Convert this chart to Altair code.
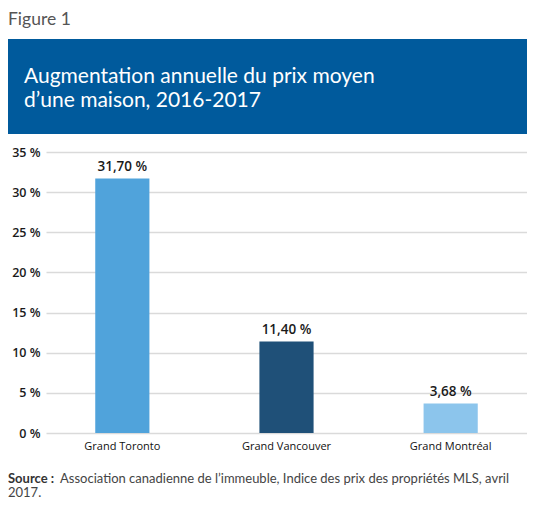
import altair as alt
import pandas as pd

regions = ["Grand Toronto", "Grand Vancouver", "Grand Montréal"]
increases = [31.70, 11.40, 3.68]
value_labels = ["31,70 %", "11,40 %", "3,68 %"]
bar_colors = ["#50a3db", "#1f5078", "#8cc5ec"]
y_ticks = [0, 5, 10, 15, 20, 25, 30, 35]

figure_label = "Figure 1"
title_lines = ["Augmentation annuelle du prix moyen", "d\u2019une maison, 2016-2017"]
source_bold = "Source :"
source_lines = ["Association canadienne de l\u2019immeuble, Indice des prix des propriétés MLS, avril", "2017."]

df = pd.DataFrame({"region": regions, "value": increases, "label": value_labels, "color": bar_colors})

W, H = 481, 281
L = 38
PAD = {"left": L, "top": 144, "right": 0, "bottom": 68}
FONT = "Open Sans"
TFONT = "Lato"

x = alt.X("region:N", sort=regions,
          scale=alt.Scale(paddingInner=0.67, paddingOuter=0.30),
          axis=alt.Axis(title=None, labelAngle=0, domain=False, ticks=False,
                        labelPadding=7, labelFontSize=11, labelColor="#111111",
                        labelFont=FONT, labelFontWeight=500))
y = alt.Y("value:Q", scale=alt.Scale(domain=[0, 35], nice=False),
          axis=alt.Axis(title=None, values=y_ticks, labelExpr="datum.value + ' %'",
                        grid=True, gridColor="#dadada", gridWidth=1.5,
                        domain=False, ticks=False, labelPadding=6,
                        labelFontSize=12.5, labelColor="#1a1a1a", labelFont=FONT,
                        labelFontWeight=600))

bars = alt.Chart(df).mark_bar().encode(x=x, y=y, color=alt.Color("color:N", scale=None))
texts = alt.Chart(df).mark_text(baseline="bottom", dy=-4, fontSize=13.5, font=FONT,
                                fontWeight=600, color="#1a1a1a").encode(x=x, y=y, text="label:N")

one = pd.DataFrame({"k": [0]})
banner = alt.Chart(one).mark_rect(color="#005a9c").encode(
    x=alt.value(-L), x2=alt.value(W), y=alt.value(-113), y2=alt.value(-18))
fig = alt.Chart(pd.DataFrame({"t": [figure_label]})).mark_text(
    align="left", baseline="alphabetic", fontSize=17.5, font=TFONT, color="#555555").encode(
    x=alt.value(-L), y=alt.value(-127), text="t:N")
title = alt.Chart(pd.DataFrame({"t": title_lines, "yy": [-69, -45]})).mark_text(
    align="left", baseline="alphabetic", fontSize=21, font=TFONT, color="white").encode(
    x=alt.value(-22), y=alt.Y("yy:Q", scale=None), text="t:N")
src_b = alt.Chart(pd.DataFrame({"t": [source_bold]})).mark_text(
    align="left", baseline="alphabetic", fontSize=13, font=TFONT, fontWeight="bold",
    color="#333333").encode(x=alt.value(-L), y=alt.value(330.5), text="t:N")
src = alt.Chart(pd.DataFrame({"t": source_lines, "xx": [-L + 52, -L], "yy": [330.5, 345]})).mark_text(
    align="left", baseline="alphabetic", fontSize=13, font=TFONT, color="#444444").encode(
    x=alt.X("xx:Q", scale=None), y=alt.Y("yy:Q", scale=None), text="t:N")

chart = alt.layer(banner, fig, title, bars, texts, src_b, src).properties(
    width=W, height=H, padding=PAD, autosize="none", background="white"
).configure_view(stroke=None)

chart.save("out.html", embed_options={"renderer": "svg", "actions": False})
